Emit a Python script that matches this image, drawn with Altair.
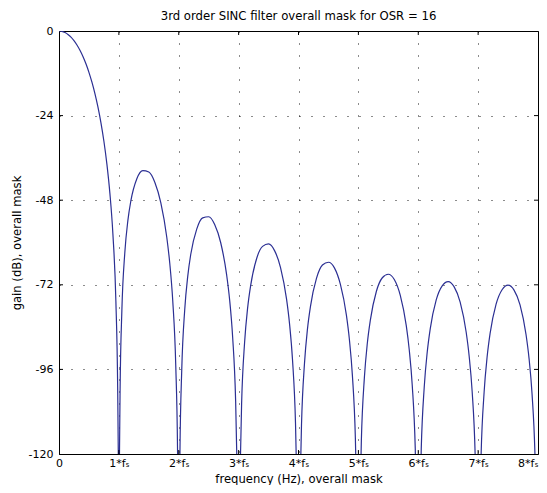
import json
import altair as alt
import pandas as pd

# ---- data ----
freq = [
    0, 0.05, 0.1, 0.15, 0.2, 0.25, 0.3, 0.35, 0.4, 0.45, 0.5, 0.55, 0.6, 0.65, 0.7, 0.75, 0.8, 0.85, 0.9, 0.95, 0.98, 0.99, 1.0,
    1.01, 1.02, 1.05, 1.1, 1.15, 1.2, 1.3, 1.4, 1.5, 1.6, 1.7, 1.8, 1.85, 1.9, 1.95, 1.98, 1.99, 2.0,
    2.01, 2.02, 2.05, 2.1, 2.15, 2.2, 2.3, 2.4, 2.5, 2.6, 2.7, 2.8, 2.85, 2.9, 2.95, 2.98, 3.0,
    3.02, 3.05, 3.1, 3.15, 3.2, 3.3, 3.4, 3.5, 3.6, 3.7, 3.8, 3.85, 3.9, 3.95, 3.98, 4.0,
    4.02, 4.05, 4.1, 4.15, 4.2, 4.3, 4.4, 4.5, 4.6, 4.7, 4.8, 4.85, 4.9, 4.95, 4.98, 5.0,
    5.02, 5.05, 5.1, 5.15, 5.2, 5.3, 5.4, 5.5, 5.6, 5.7, 5.8, 5.85, 5.9, 5.95, 5.98, 6.0,
    6.02, 6.05, 6.1, 6.15, 6.2, 6.3, 6.4, 6.5, 6.6, 6.7, 6.8, 6.85, 6.9, 6.95, 6.98, 7.0,
    7.02, 7.05, 7.1, 7.15, 7.2, 7.3, 7.4, 7.5, 7.6, 7.7, 7.8, 7.85, 7.9, 7.95, 7.98, 8.0,
]
gain = [
    0, -0.11, -0.43, -0.97, -1.73, -2.73, -3.96, -5.46, -7.23, -9.31, -11.73, -14.52, -17.76, -21.54, -25.98, -31.27, -37.75, -46.05, -57.55, -76.68, -101.3, -119.5, -150,
    -120.2, -102.3, -79.3, -62.7, -53.8, -48.2, -41.9, -39.6, -40.0, -42.9, -48.7, -58.5, -65.9, -76.6, -94.9, -119.1, -137.3, -150,
    -137.6, -119.6, -96.2, -79.0, -69.6, -63.4, -56.2, -53.0, -52.7, -54.9, -60.0, -69.2, -76.3, -86.8, -104.9, -128.9, -150,
    -129.2, -105.6, -88.3, -78.6, -72.3, -64.6, -61.1, -60.4, -62.3, -67.1, -76.0, -83.0, -93.3, -111.3, -135.2, -150,
    -135.5, -111.8, -94.3, -84.5, -78.1, -70.2, -66.4, -65.6, -67.2, -71.9, -80.6, -87.5, -97.7, -115.6, -139.5, -150,
    -139.6, -116.0, -98.4, -88.5, -82.0, -73.9, -70.0, -69.0, -70.5, -75.0, -83.6, -90.5, -100.6, -118.4, -142.0, -150,
    -142.0, -118.6, -101.0, -91.1, -84.5, -76.3, -72.3, -71.1, -72.6, -76.9, -85.4, -92.2, -102.2, -120.0, -144.0, -150,
    -144.0, -120.1, -102.5, -92.5, -85.8, -77.5, -73.4, -72.1, -73.5, -77.7, -86.1, -92.8, -102.8, -120.6, -144.0, -150,
]
x_ticks = [0, 1, 2, 3, 4, 5, 6, 7, 8]
x_labels = ["0", "1*f\u209b", "2*f\u209b", "3*f\u209b", "4*f\u209b",
            "5*f\u209b", "6*f\u209b", "7*f\u209b", "8*f\u209b"]
y_ticks = [-120, -96, -72, -48, -24, 0]

title = "3rd order SINC filter overall mask for OSR = 16"
x_title = "frequency (Hz), overall mask"
y_title = "gain (dB), overall mask"

W, H = 479, 423
FONT = "DejaVu Sans"
LINE_COLOR = "#2b2f93"

df = pd.DataFrame({"f": freq, "g": gain})
xt = pd.DataFrame({"f": x_ticks[1:-1]})
yt = pd.DataFrame({"g": y_ticks[1:-1]})

xscale = alt.Scale(domain=[0, 8], nice=False, zero=False)
yscale = alt.Scale(domain=[-120, 0], nice=False, zero=False)

label_expr = json.dumps(x_labels, ensure_ascii=False) + "[datum.value]"

X = alt.X("f:Q", scale=xscale, title=x_title,
          axis=alt.Axis(values=x_ticks, labelExpr=label_expr, grid=True,
                        labelOverlap=False, labelFlush=False, titlePadding=5,
                        labelPadding=3,
                        labelAlign={"condition": {"test": "datum.value == 8", "value": "right"},
                                    "value": "center"}))
Y = alt.Y("g:Q", scale=yscale, title=y_title,
          axis=alt.Axis(values=y_ticks, labelExpr="'' + datum.value", grid=True,
                        labelOverlap=False, labelFlush=False, titlePadding=6,
                        labelPadding=6))

line = alt.Chart(df).mark_line(
    color=LINE_COLOR, strokeWidth=1.2, clip=True, interpolate="monotone"
).encode(x=X, y=Y)

tick_len = 4
bottom_ticks = alt.Chart(xt).mark_rule(color="black", strokeWidth=1).encode(
    x=X, y=alt.value(H), y2=alt.value(H - tick_len))
top_ticks = alt.Chart(xt).mark_rule(color="black", strokeWidth=1).encode(
    x=X, y=alt.value(0), y2=alt.value(tick_len))
left_ticks = alt.Chart(yt).mark_rule(color="black", strokeWidth=1).encode(
    y=Y, x=alt.value(0), x2=alt.value(tick_len))
right_ticks = alt.Chart(yt).mark_rule(color="black", strokeWidth=1).encode(
    y=Y, x=alt.value(W - tick_len), x2=alt.value(W))

chart = alt.layer(line, bottom_ticks, top_ticks, left_ticks, right_ticks).properties(
    width=W, height=H,
    title=alt.TitleParams(title, font=FONT, fontSize=11.7, fontWeight="normal",
                          color="black", anchor="middle", offset=2),
    autosize=alt.AutoSizeParams(type="none"),
    padding={"left": 51, "top": 23, "right": 1, "bottom": 31},
).configure_view(
    stroke="black", strokeWidth=1
).configure_axis(
    labelFont=FONT, labelFontSize=11, labelColor="black",
    titleFont=FONT, titleFontSize=11.6, titleFontWeight="normal", titleColor="black",
    domainColor="black", domainWidth=1, tickSize=0, ticks=False,
    gridColor="black", gridWidth=1, gridDash=[1, 11], gridOpacity=0.9,
)

chart.save("out.html", embed_options={"renderer": "svg", "actions": False})
